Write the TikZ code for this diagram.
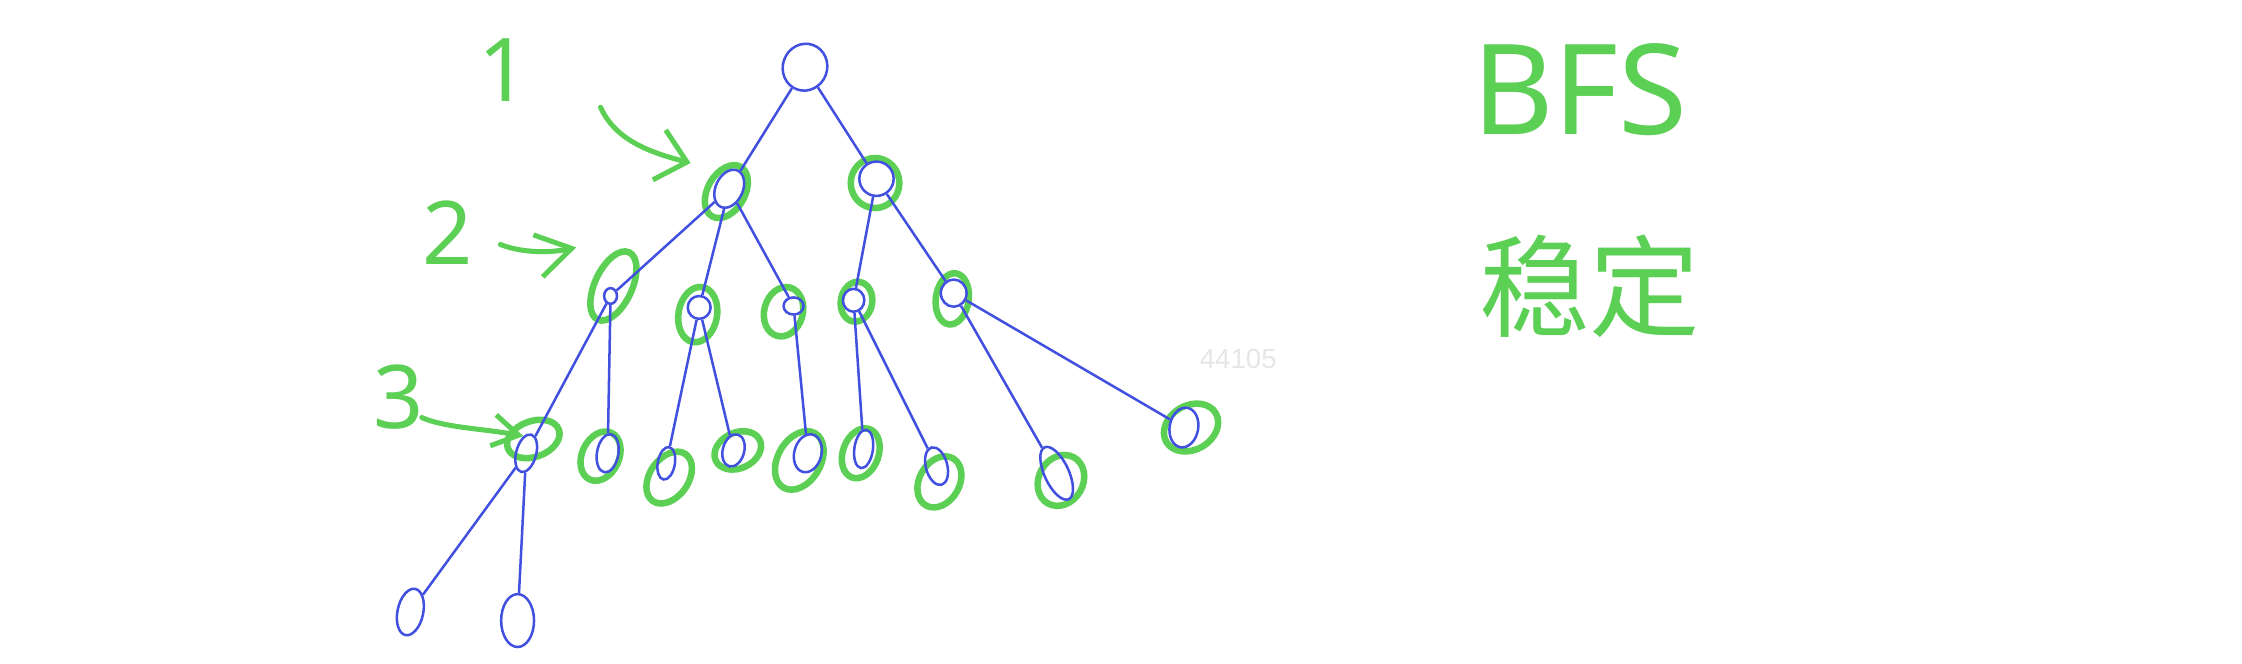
\documentclass[tikz,border=0pt]{standalone}
\usepackage{fontspec}
\usepackage{tikz}
\usetikzlibrary{arrows.meta,shapes.geometric}
\definecolor{penblue}{HTML}{4250E0}
\definecolor{pengreen}{HTML}{5CCF55}
\definecolor{faint}{HTML}{E6E6E6}
\newfontfamily\handfont{Noto Sans}
\newfontfamily\cjkfont{Noto Sans CJK SC}
\newfontfamily\markfont{Liberation Sans}

\begin{document}
\begin{tikzpicture}[x=0.1mm,y=-0.1mm,
  vtx/.style={ellipse,draw=penblue,line width=0.5pt,inner sep=0pt},
  ring/.style={ellipse,draw=pengreen,line width=1.3pt,inner sep=0pt},
  link/.style={penblue,line width=0.5pt},
  pointer/.style={pengreen,line width=1pt,line cap=round},
  scribble/.style={text=pengreen,inner sep=0pt}]
\useasboundingbox (0,0) rectangle (1568,464);
% green rings round the visited levels
\foreach \n/\x/\y/\w/\h/\r in {g1a/508/134/2.6/4.0/-30, g1b/612/128/3.4/3.5/0,
  g2a/429/200/2.6/5.2/-25, g2b/488/220/2.7/3.9/-10, g2c/548/218/2.7/3.5/-15,
  g2d/599/211/2.2/2.8/-10, g2e/666/209/2.3/3.6/-8,
  g3a/373/307/3.8/2.5/20, g3b/420/319/2.6/3.6/-25, g3c/468/334/2.7/4.0/-35,
  g3d/516/315/3.4/2.5/25, g3e/559/322/3.0/4.4/-30, g3f/602/317/2.5/3.6/-20,
  g3g/657/337/2.8/3.8/-30, g3h/742/336/3.1/3.7/-30, g3i/833/299/4.0/3.1/30}
  \node[ring,minimum width=\w mm,minimum height=\h mm,rotate=\r] (\n) at (\x,\y) {};
% tree vertices
\foreach \n/\x/\y/\w/\h/\r in {root/563/47/3.1/3.3/-20,
  lv1a/510/132/1.9/2.8/-25, lv1b/613/125/2.4/2.4/0,
  lv2a/427/207/0.9/1.1/0, lv2b/489/215/1.6/1.6/0, lv2c/555/214/1.4/1.2/0,
  lv2d/597/210/1.5/1.6/0, lv2e/667/205/1.8/1.9/0,
  lv3a/368/317/1.4/2.7/-15, lv3b/425/317/1.5/2.7/-10, lv3c/466/324/1.2/2.3/-10,
  lv3d/513/315/1.5/2.3/-15, lv3e/565/317/1.9/2.7/-15, lv3f/604/314/1.3/2.7/-8,
  lv3g/655/326/1.5/2.7/15, lv3h/739/331/1.7/4.0/25, lv3i/828/299/2.0/2.8/-10,
  lv4a/287/428/1.8/3.3/-12, lv4b/362/434/2.3/3.7/0}
  \node[vtx,minimum width=\w mm,minimum height=\h mm,rotate=\r] (\n) at (\x,\y) {};
\foreach \a/\b in {root/lv1a, root/lv1b, lv1a/lv2a, lv1a/lv2b, lv1a/lv2c,
  lv1b/lv2d, lv1b/lv2e, lv2a/lv3a, lv2a/lv3b, lv2b/lv3c, lv2b/lv3d, lv2c/lv3e,
  lv2d/lv3f, lv2d/lv3g, lv2e/lv3h, lv2e/lv3i, lv3a/lv4a, lv3a/lv4b}
  \draw[link] (\a) -- (\b);
% level numbers and arrows
\node[scribble,font=\handfont\fontsize{17.5}{20}\selectfont] (lab1) at (352,49) {1};
\node[scribble,font=\handfont\fontsize{17.5}{20}\selectfont] (lab2) at (313,163) {2};
\node[scribble,font=\handfont\fontsize{17.5}{20}\selectfont] (lab3) at (279,278) {3};
\coordinate (tail1) at (420,75);
\coordinate (tip1) at (483,114);
\coordinate (tail2) at (350,171);
\coordinate (tip2) at (403,173);
\coordinate (tail3) at (295,292);
\coordinate (tip3) at (366,305);
\draw[pointer,-{Straight Barb[length=2mm,width=3.6mm]}] (tail1) .. controls (430,97) and (452,106) .. (tip1);
\draw[pointer,-{Straight Barb[length=2.4mm,width=3mm]}] (tail2) .. controls (365,177) and (385,177) .. (tip2);
\draw[pointer,-{Straight Barb[length=1.8mm,width=2.2mm]}] (tail3) .. controls (310,299) and (340,300) .. (tip3);
% notes on the right
\node[scribble,font=\handfont\fontsize{25}{28}\selectfont] (bfs) at (1105,63) {BFS};
\node[scribble,font=\cjkfont\fontsize{22}{26}\selectfont] (stable) at (1112,200) {稳定};
\node[text=faint,font=\markfont\fontsize{5.5}{6}\selectfont] (mark) at (866,251) {44105};
\end{tikzpicture}
\end{document}
